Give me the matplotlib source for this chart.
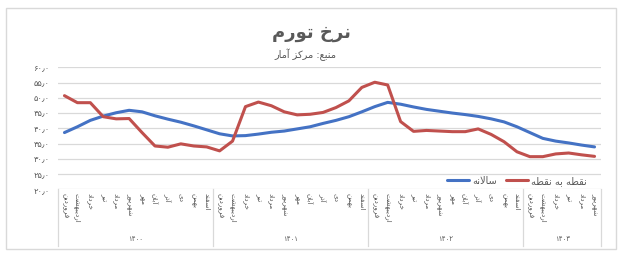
import numpy as np
import matplotlib
matplotlib.use('Agg')
import matplotlib.pyplot as plt
import matplotlib.transforms as mtrans
from matplotlib.patches import Rectangle

# --- data ---
years = ['۱۴۰۰', '۱۴۰۱', '۱۴۰۲', '۱۴۰۳']
months = ['فروردین', 'اردیبهشت', 'خرداد', 'تیر', 'مرداد', 'شهریور',
          'مهر', 'آبان', 'آذر', 'دی', 'بهمن', 'اسفند']
months_per_year = [12, 12, 12, 6]

annual = [38.6, 40.5, 42.6, 44.0, 45.1, 45.9, 45.4, 44.1, 43.0, 42.0, 40.8, 39.5,
          38.2, 37.5, 37.6, 38.1, 38.7, 39.1, 39.8, 40.5, 41.6, 42.6, 43.8, 45.4,
          47.1, 48.5, 47.9, 47.0, 46.2, 45.6, 45.0, 44.5, 43.9, 43.1, 42.1, 40.5,
          38.6, 36.7, 35.8, 35.2, 34.5, 33.9]
p2p = [50.7, 48.4, 48.4, 43.8, 43.1, 43.2, 38.6, 34.2, 33.8, 34.9, 34.2, 33.9,
       32.6, 35.8, 47.1, 48.6, 47.4, 45.4, 44.4, 44.6, 45.2, 46.8, 49.0, 53.4,
       55.1, 54.2, 42.2, 39.0, 39.3, 39.1, 38.9, 38.9, 39.8, 38.0, 35.6, 32.3,
       30.7, 30.7, 31.6, 31.9, 31.3, 30.8]
yticks = np.arange(20, 61, 5)

title = 'نرخ تورم'
subtitle = 'منبع: مرکز آمار'
lbl_annual = 'سالانه'
lbl_p2p = 'نقطه به نقطه'

# --- crude arabic shaping: matplotlib does no joining / RTL on its own ---
FORMS = {'ا': 0xFE8D, 'آ': 0xFE81, 'ب': 0xFE8F, 'ت': 0xFE95, 'خ': 0xFEA5,
         'د': 0xFEA9, 'ذ': 0xFEAB, 'ر': 0xFEAD, 'ز': 0xFEAF, 'س': 0xFEB1,
         'ش': 0xFEB5, 'ط': 0xFEC1, 'ع': 0xFEC9, 'ف': 0xFED1, 'ق': 0xFED5,
         'ک': 0xFB8E, 'ل': 0xFEDD, 'م': 0xFEE1, 'ن': 0xFEE5, 'ه': 0xFEE9,
         'و': 0xFEED, 'ی': 0xFBFC}
DUAL = set('بتخسشطعفقکلمنهی')
LAM_ALEF = {'ا': 0xFEFB, 'آ': 0xFEF5}

def fa(s):
    out = []
    i = 0
    while i < len(s):
        c = s[i]
        if c not in FORMS:
            out.append(c); i += 1; continue
        p = i > 0 and s[i-1] in DUAL
        if c == 'ل' and i+1 < len(s) and s[i+1] in LAM_ALEF:
            out.append(chr(LAM_ALEF[s[i+1]] + (1 if p else 0))); i += 2; continue
        q = c in DUAL and i+1 < len(s) and s[i+1] in FORMS
        base = FORMS[c]
        if p and q: k = 3
        elif p: k = 1
        elif q: k = 2
        else: k = 0
        out.append(chr(base + k))
        i += 1
    return ''.join(reversed(out))

def fa_num(v):
    return ''.join(chr(0x06F0 + int(d)) for d in str(v)) + '٫۰'

plt.rcParams['font.family'] = ['DejaVu Sans']
txt = '#595959'
grid = '#D9D9D9'

W, H = 624, 257
fig = plt.figure(figsize=(W/100, H/100), dpi=100)
ax = fig.add_axes([58/W, (H-189.3)/H, 543/W, 122/H])

x = np.arange(len(annual))
ax.plot(x, annual, color='#4472C4', lw=2.2, solid_capstyle='round', label=fa(lbl_annual))
ax.plot(x, p2p, color='#C0504D', lw=2.2, solid_capstyle='round', label=fa(lbl_p2p))

ax.set_xlim(-0.5, len(annual)-0.5)
ax.set_ylim(20, 60)
ax.set_yticks(yticks)
ax.set_yticklabels([fa_num(v) for v in yticks])
ax.tick_params(axis='y', length=0, pad=6, labelsize=6, labelcolor=txt)
ax.set_xticks([])
for s in ax.spines.values():
    s.set_visible(False)
for v in yticks:
    ax.axhline(v, color=grid, lw=0.9, zorder=0)

# multi level category axis
tr = mtrans.blended_transform_factory(ax.transData, ax.transAxes)
box_bot = -(246-189.3)/122
edges = np.concatenate([[0], np.cumsum(months_per_year)]) - 0.5
for e in edges:
    ax.plot([e, e], [0, box_bot], color=grid, lw=0.9, transform=tr, clip_on=False)
k = 0
for yi, n in enumerate(months_per_year):
    for m in range(n):
        ax.text(k, -0.03, fa(months[m]), transform=tr, rotation=-90, ha='center',
                va='top', fontsize=5.2, color=txt)
        k += 1
    ax.text((edges[yi] + edges[yi+1]) / 2, -(239-189.3)/122, years[yi], transform=tr,
            ha='center', va='center', fontsize=5, color=txt)

ax.legend(loc='center', bbox_to_anchor=(0.845, 0.07), ncol=2, frameon=False,
          fontsize=7, handlelength=2.3, columnspacing=1.0, handletextpad=0.3,
          labelcolor=txt)

fig.text(311/W, 1-33/H, fa(title), ha='center', va='center', fontsize=13,
         fontweight='bold', color=txt)
fig.text(305/W, 1-55/H, fa(subtitle), ha='center', va='center', fontsize=7, color=txt)

fig.patches.append(Rectangle((6/W, (H-249)/H), 610/W, 241/H, transform=fig.transFigure,
                             fill=False, edgecolor=grid, lw=1))

fig.savefig('out.png', dpi=100)
